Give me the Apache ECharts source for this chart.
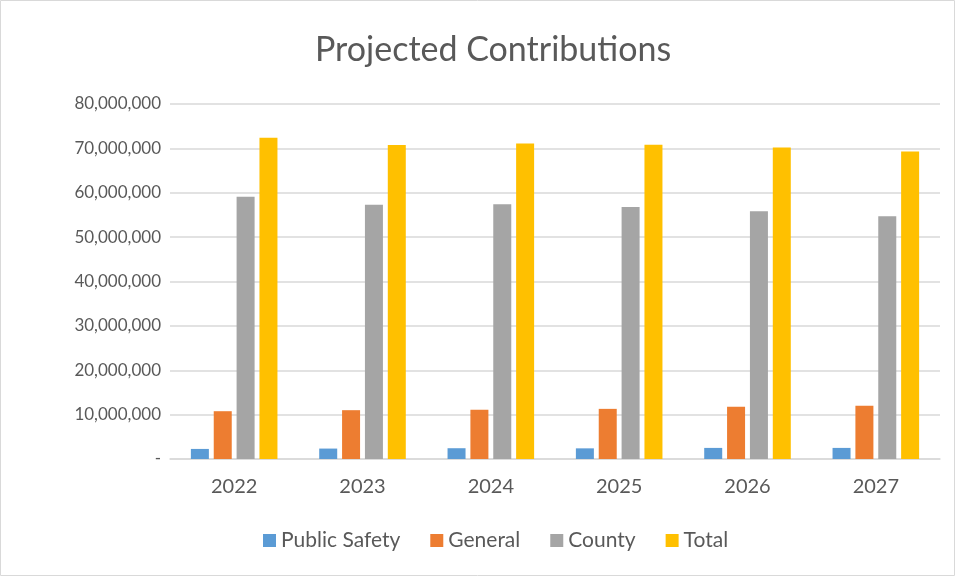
<!DOCTYPE html>
<html><head><meta charset="utf-8">
<script src="https://cdn.jsdelivr.net/npm/echarts@6/dist/echarts.min.js"></script>
<style>html,body{margin:0;padding:0;background:#fff}#c{width:956px;height:577px}</style>
</head><body><div id="c"></div>
<script>
const years = ['2022','2023','2024','2025','2026','2027'];
const publicSafety = [2270000, 2350000, 2430000, 2400000, 2500000, 2500000];
const general = [10770000, 11000000, 11100000, 11300000, 11750000, 12000000];
const county = [59100000, 57300000, 57400000, 56800000, 55850000, 54700000];
const total = [72400000, 70750000, 71100000, 70800000, 70200000, 69300000];
const seriesNames = ['Public Safety','General','County','Total'];
const colors = ['#5b9bd5','#ed7d31','#a5a5a5','#ffc000'];
const font = 'Lato, "Liberation Sans", sans-serif';
const chart = echarts.init(document.getElementById('c'));
const fmt = v => v === 0 ? '-' : v.toLocaleString('en-US');
chart.setOption({
  animation:false,
  color: colors,
  title:{text:'Projected Contributions',left:310,top:28,textStyle:{fontFamily:font,fontSize:34,fontWeight:'normal',color:'#595959'}},
  legend:{left:258,bottom:21,itemWidth:13,itemHeight:13,itemGap:30,icon:'rect',textStyle:{fontFamily:font,fontSize:21,color:'#595959'},data:seriesNames},
  grid:{left:170,right:16,top:104,bottom:118},
  xAxis:{type:'category',data:years,axisLine:{lineStyle:{color:'#d9d9d9',width:1.5}},axisTick:{show:false},axisLabel:{fontFamily:font,fontSize:20,color:'#595959',margin:18}},
  yAxis:{type:'value',min:0,max:80000000,interval:10000000,axisLine:{show:false},axisTick:{show:false},splitLine:{lineStyle:{color:'#d9d9d9',width:1.5}},axisLabel:{fontFamily:font,fontSize:17,color:'#595959',margin:9,formatter:fmt}},
  series:[
    {name:seriesNames[0],type:'bar',data:publicSafety,barWidth:18,barGap:'27%'},
    {name:seriesNames[1],type:'bar',data:general,barWidth:18,barGap:'27%'},
    {name:seriesNames[2],type:'bar',data:county,barWidth:18,barGap:'27%'},
    {name:seriesNames[3],type:'bar',data:total,barWidth:18,barGap:'27%'}
  ],
  graphic:[{type:'rect',shape:{x:0.5,y:0.5,width:954,height:575},style:{fill:'none',stroke:'#d9d9d9',lineWidth:1},silent:true}]
});
</script></body></html>
